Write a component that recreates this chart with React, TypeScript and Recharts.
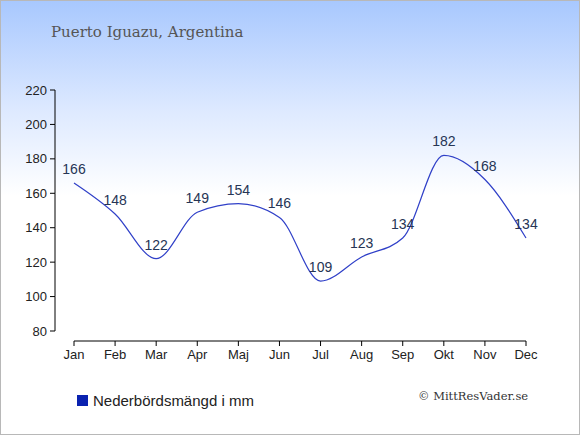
import React from "react";
import { LineChart, Line, XAxis, YAxis, LabelList } from "recharts";

const months = ["Jan", "Feb", "Mar", "Apr", "Maj", "Jun", "Jul", "Aug", "Sep", "Okt", "Nov", "Dec"];
const rainfall = [166, 148, 122, 149, 154, 146, 109, 123, 134, 182, 168, 134];
const yTicks = [80, 100, 120, 140, 160, 180, 200, 220];
const title = "Puerto Iguazu, Argentina";
const legendLabel = "Nederbördsmängd i mm";
const copyright = "© MittResVader.se";

const data = months.map((m, i) => ({ month: m, value: rainfall[i] }));

const AXIS_X = 55;
const STEP = (331 - 90) / 7;

const YTick = (props: any) => {
  const { y, payload } = props;
  const isTop = payload.value === yTicks[yTicks.length - 1];
  return (
    <g>
      <line x1={AXIS_X - 5} y1={y} x2={AXIS_X} y2={y} stroke="#000" strokeWidth={1} />
      {!isTop && <line x1={AXIS_X} y1={y} x2={AXIS_X} y2={y - STEP} stroke="#000" strokeWidth={1} />}
      <text
        x={AXIS_X - 8}
        y={y}
        textAnchor="end"
        dominantBaseline="central"
        fontFamily="'Liberation Sans', Arial, sans-serif"
        fontSize={13}
        fill="#222"
      >
        {payload.value}
      </text>
    </g>
  );
};

const XTick = (props: any) => {
  const { x, y, payload } = props;
  return (
    <text
      x={x}
      y={y + 6}
      textAnchor="middle"
      dominantBaseline="central"
      fontFamily="'Liberation Sans', Arial, sans-serif"
      fontSize={13}
      fill="#222"
    >
      {payload.value}
    </text>
  );
};

const ValueLabel = (props: any) => {
  const { x, y, value } = props;
  return (
    <text
      x={x}
      y={y - 14}
      textAnchor="middle"
      dominantBaseline="central"
      fontFamily="'Liberation Sans', Arial, sans-serif"
      fontSize={14}
      fill="#263555"
    >
      {value}
    </text>
  );
};

export default function App() {
  return (
    <div
      style={{
        position: "absolute",
        left: 0,
        top: 0,
        width: 580,
        height: 435,
        boxSizing: "border-box",
        border: "1px solid #b8b8b8",
        background: "linear-gradient(to bottom, #a8c8fe 0%, #dde9ff 25%, #ffffff 45%, #ffffff 100%)",
        overflow: "hidden",
      }}
    >
      <div
        style={{
          position: "absolute",
          left: 50,
          top: 22,
          fontFamily: "'DejaVu Serif', Georgia, serif",
          fontSize: 15,
          color: "#555",
          whiteSpace: "nowrap",
        }}
      >
        {title}
      </div>
      <div style={{ position: "absolute", left: -1, top: -1 }}>
        <LineChart width={580} height={435} data={data} margin={{ top: 90, right: 54, bottom: 64, left: 0 }}>
          <XAxis
            dataKey="month"
            stroke="#000"
            tickSize={5}
            tickLine={{ stroke: "#000" }}
            axisLine={{ stroke: "#000" }}
            tick={<XTick />}
            interval={0}
            height={30}
          />
          <YAxis
            domain={[80, 220]}
            ticks={yTicks}
            width={74}
            axisLine={false}
            tickLine={false}
            tick={<YTick />}
            padding={{ top: 0, bottom: 10 }}
            interval={0}
          />
          <Line
            type="monotone"
            dataKey="value"
            stroke="#3040c8"
            strokeWidth={1.2}
            dot={false}
            isAnimationActive={false}
          >
            <LabelList dataKey="value" content={<ValueLabel />} />
          </Line>
        </LineChart>
      </div>
      <div
        style={{
          position: "absolute",
          left: 76,
          top: 389,
          height: 20,
          display: "flex",
          alignItems: "center",
          fontFamily: "'Liberation Sans', Arial, sans-serif",
          fontSize: 15,
          color: "#222",
          whiteSpace: "nowrap",
        }}
      >
        <span style={{ display: "inline-block", width: 11, height: 11, background: "#0a22b0", marginRight: 5 }} />
        {legendLabel}
      </div>
      <div
        style={{
          position: "absolute",
          left: 417,
          top: 388,
          fontFamily: "'DejaVu Serif', Georgia, serif",
          fontSize: 11.5,
          color: "#333",
          whiteSpace: "nowrap",
        }}
      >
        {copyright}
      </div>
    </div>
  );
}
